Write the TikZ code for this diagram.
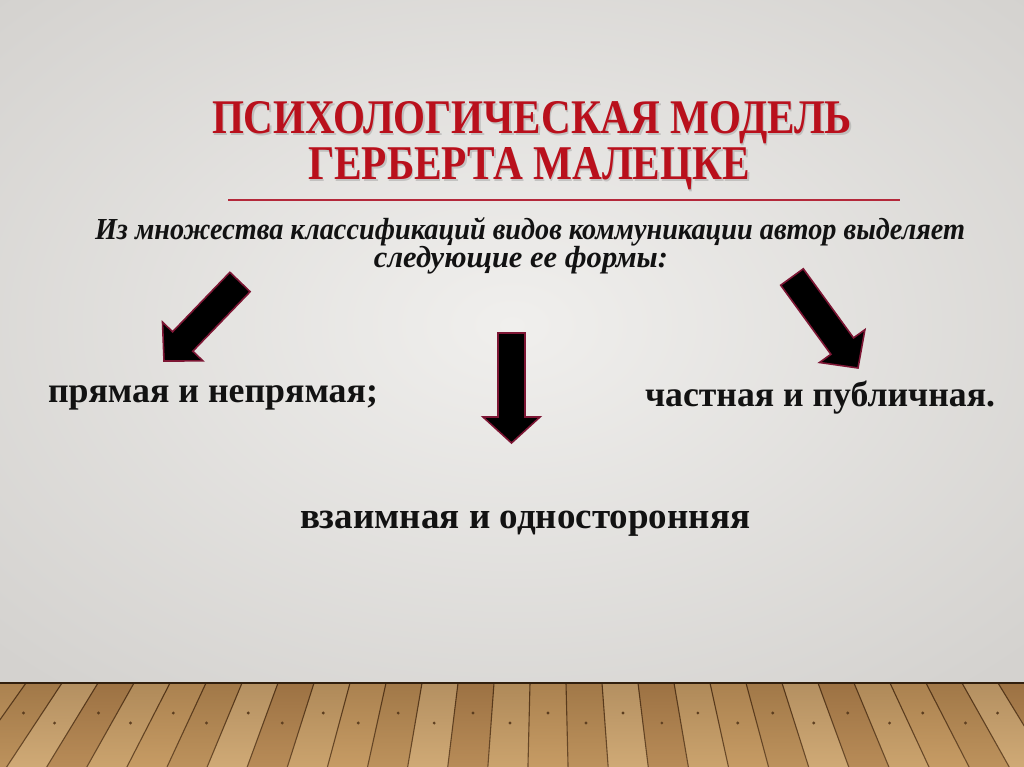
\documentclass[tikz,border=0pt]{standalone}
\usepackage{fontspec}
\usepackage{graphicx}
\setmainfont{Liberation Serif}
\definecolor{titlered}{RGB}{185,16,28}
\definecolor{arrowred}{RGB}{125,22,52}
\definecolor{rulered}{RGB}{180,40,58}
\definecolor{bgin}{RGB}{240,239,237}
\definecolor{bgout}{RGB}{212,210,207}
\definecolor{ink}{RGB}{18,18,18}
\definecolor{wood0}{RGB}{196,152,96}
\definecolor{wood1}{RGB}{184,140,86}
\definecolor{wood2}{RGB}{208,170,118}
\definecolor{wood3}{RGB}{178,132,80}
\definecolor{wood4}{RGB}{202,162,108}
\definecolor{plankline}{RGB}{82,52,24}
\newlength\subw
\begin{document}
\settowidth{\subw}{\fontsize{20}{24}\selectfont\bfseries\itshape Из множества классификаций видов коммуникации автор выделяет}
\begin{tikzpicture}[x=1pt,y=-1pt,
  txt/.style={inner sep=0pt, outer sep=0pt, anchor=base west},
  blockarrow/.style={fill=black, draw=arrowred, line width=1.6pt, line join=miter}]
\pgfmathsetmacro\subscale{870/\subw}
\pgfmathsetmacro\subscalev{1.08*\subscale}
\pgfmathsetmacro\subscaleh{1.08*\subscale}
\useasboundingbox (0,0) rectangle (1024,767);
% wall
\shade[inner color=bgin, outer color=bgout] (-200,-150) rectangle (1224,800);
% floor
\fill[wood0] (0,683) rectangle (1024,767);
\foreach \k [evaluate=\k as \xa using {530+36*\k},
             evaluate=\k as \xb using {530+36*(\k+1)},
             evaluate=\k as \m using {int(mod(\k+20,5))}] in {-16,...,14} {
  \fill[wood\m] (\xa,683) -- (\xb,683) -- ({548+(\xb-548)*1.114},767) -- ({548+(\xa-548)*1.114},767) -- cycle;
  \draw[plankline, line width=1.1pt] (\xa,683) -- ({548+(\xa-548)*1.114},767);
}
\foreach \k [evaluate=\k as \yy using {713+10*mod(\k+20,2)},
             evaluate=\k as \xc using {548+(530+36*\k+18-548)*(1+0.114*(713+10*mod(\k+20,2)-683)/84)}] in {-16,...,13} {
  \fill[plankline] (\xc,\yy) circle (1.6);
}
\shade[top color=plankline, bottom color=wood2, fill opacity=0.22] (0,683) rectangle (1024,767);
\draw[plankline!60!black, line width=2.2pt] (0,683) -- (1024,683);
% title
\node[txt, text=black!40, opacity=0.45] at (213.5,135.5) {\resizebox{640pt}{32pt}{\bfseries ПСИХОЛОГИЧЕСКАЯ МОДЕЛЬ}};
\node[txt, text=black!40, opacity=0.45] at (309.5,181.5) {\resizebox{442pt}{32pt}{\bfseries ГЕРБЕРТА МАЛЕЦКЕ}};
\node[txt, text=titlered] (title1) at (212,134) {\resizebox{640pt}{32pt}{\bfseries ПСИХОЛОГИЧЕСКАЯ МОДЕЛЬ}};
\node[txt, text=titlered] (title2) at (308,180) {\resizebox{442pt}{32pt}{\bfseries ГЕРБЕРТА МАЛЕЦКЕ}};
\coordinate (ruleL) at (228,200);
\coordinate (ruleR) at (900,200);
\draw[rulered, line width=1.8pt] (ruleL) -- (ruleR);
% subtitle
\node[txt, text=ink] (sub1) at (95,239) {\scalebox{\subscale}[\subscalev]{\fontsize{20}{24}\selectfont\bfseries\itshape Из множества классификаций видов коммуникации автор выделяет}};
\node[inner sep=0pt, outer sep=0pt, anchor=base, text=ink] (sub2) at (521,267) {\scalebox{\subscaleh}[\subscalev]{\fontsize{20}{24}\selectfont\bfseries\itshape следующие ее формы:}};
% forms
\node[txt, text=ink] (form1) at (48,402) {\resizebox{330pt}{!}{\bfseries прямая и непрямая;}};
\node[txt, text=ink] (form2) at (645,406) {\resizebox{350pt}{!}{\bfseries частная и публичная.}};
\node[txt, text=ink] (form3) at (300,528) {\resizebox{450pt}{!}{\bfseries взаимная и односторонняя}};
% arrows
\draw[blockarrow] (229.9,272.3) -- (250.1,291.7) -- (192.8,351.2) -- (202.9,360.9) -- (164,361) -- (162.5,322.1) -- (172.6,331.8) -- cycle;
\draw[blockarrow] (498,333) -- (525,333) -- (525,417) -- (540,417) -- (511.5,443) -- (483,417) -- (498,417) -- cycle;
\draw[blockarrow] (780.7,285.2) -- (803.3,268.8) -- (853.5,337.9) -- (864.9,329.7) -- (858,368) -- (819.5,362.5) -- (830.9,354.3) -- cycle;
\end{tikzpicture}
\end{document}
